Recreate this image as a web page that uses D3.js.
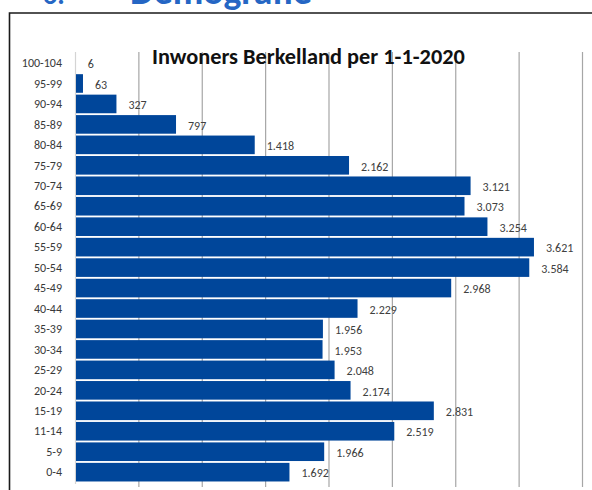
<!DOCTYPE html>
<html>
<head>
<meta charset="utf-8">
<script src="https://cdn.jsdelivr.net/npm/d3@7"></script>
<style>
  body { margin: 0; background: #fff; }
  svg { display: block; }
</style>
</head>
<body>
<div id="chart"></div>
<script>
let width = 592, // page width
    height = 490; // page height

// age groups, top to bottom as in the picture
const categories = ["100-104", "95-99", "90-94", "85-89", "80-84", "75-79", "70-74",
                    "65-69", "60-64", "55-59", "50-54", "45-49", "40-44", "35-39",
                    "30-34", "25-29", "20-24", "15-19", "11-14", "5-9", "0-4"];
// inhabitants per age group
const inwoners = [6, 63, 327, 797, 1418, 2162, 3121,
                  3073, 3254, 3621, 3584, 2968, 2229, 1956,
                  1953, 2048, 2174, 2831, 2519, 1966, 1692];
const xTicks = [0, 500, 1000, 1500, 2000, 2500, 3000, 3500, 4000];

const data = categories.map(function(c, i){ return {cat: c, value: inwoners[i]}; });

// dutch number format: 1.418
const nl = d3.formatLocale({decimal: ",", thousands: ".", grouping: [3], currency: ["€", ""]});
const fmt = nl.format(",d");

const svg = d3.select('#chart')
  .append('svg')
  .attr('width', width)
  .attr('height', height);

const font = "Carlito, Roboto, sans-serif";

// heading of the document, cut off at the top as in the picture
svg.append('text')
  .attr('x', 43).attr('y', 4)
  .attr('font-family', font).attr('font-weight', 'bold')
  .attr('font-size', 28).attr('fill', '#2566c4')
  .text('6.');
const heading = svg.append('text')
  .attr('x', 130).attr('y', 4)
  .attr('font-family', font).attr('font-weight', 'bold')
  .attr('font-size', 28).attr('fill', '#2566c4')
  .text('Demografie');
let hw = heading.node().getComputedTextLength();
heading.attr('font-size', 28 * 182 / hw);

// frame of the chart
svg.append('path')
  .attr('d', 'M9.5,490 V13 H592')
  .attr('fill', 'none')
  .attr('stroke', '#1a1a1a')
  .attr('stroke-width', 1.6);

let x = d3.scaleLinear()
  .domain([0, 4000])
  .range([75, 582]);

let y = d3.scaleBand()
  .domain(categories)
  .range([52.8, 482.4])
  .paddingInner(0.09)
  .paddingOuter(0.045);

// vertical gridlines
svg.append('g')
  .selectAll('line')
  .data(xTicks)
  .enter()
  .append('line')
  .attr('x1', function(d){ return x(d) + 0.5; })
  .attr('x2', function(d){ return x(d) + 0.5; })
  .attr('y1', 52)
  .attr('y2', function(d){ return d === 0 ? 484 : 487; })
  .attr('stroke', function(d){ return d === 0 ? '#d4d4d4' : '#a6a6a6'; })
  .attr('stroke-width', 1.2);

// title
const title = svg.append('text')
  .attr('x', 152).attr('y', 64)
  .attr('font-family', font).attr('font-weight', 'bold')
  .attr('font-size', 20).attr('fill', '#111')
  .text('Inwoners Berkelland per 1-1-2020');
let tw = title.node().getComputedTextLength();
title.attr('font-size', 20 * 313 / tw);

// bars
svg.selectAll('.bar')
  .data(data)
  .enter()
  .append('rect')
  .attr('class', 'bar')
  .attr('x', x(0) + 1)
  .attr('y', function(d){ return y(d.cat); })
  .attr('width', function(d){ return Math.max(0, x(d.value) - x(0) - 1); })
  .attr('height', y.bandwidth())
  .attr('fill', '#00469a');

// category labels
svg.selectAll('.cat')
  .data(data)
  .enter()
  .append('text')
  .attr('class', 'cat')
  .attr('x', 62)
  .attr('y', function(d){ return y(d.cat) + y.bandwidth() / 2; })
  .attr('dy', '0.35em')
  .attr('text-anchor', 'end')
  .attr('font-family', font)
  .attr('font-size', 12)
  .attr('fill', '#383838')
  .text(function(d){ return d.cat; });

// value labels
svg.selectAll('.val')
  .data(data)
  .enter()
  .append('text')
  .attr('class', 'val')
  .attr('x', function(d){ return x(d.value) + 12; })
  .attr('y', function(d){ return y(d.cat) + y.bandwidth() / 2 + 1; })
  .attr('dy', '0.35em')
  .attr('font-family', font)
  .attr('font-size', 12)
  .attr('fill', '#404040')
  .text(function(d){ return fmt(d.value); });
</script>
</body>
</html>
